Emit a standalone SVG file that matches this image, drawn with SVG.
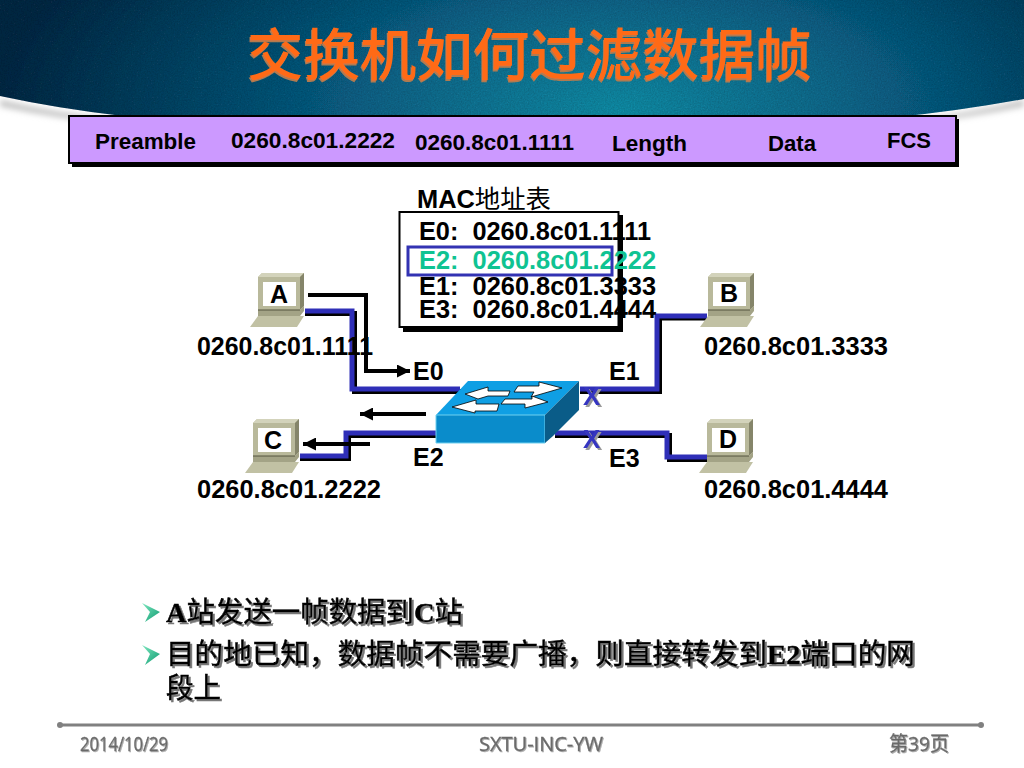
<svg xmlns="http://www.w3.org/2000/svg" xmlns:xlink="http://www.w3.org/1999/xlink" width="1024" height="768" viewBox="0 0 1024 768">
<style>
.l{font-family:"Liberation Sans","Noto Sans CJK SC",sans-serif;font-weight:bold;fill:#000}
.h{font-size:22px}
.m{font-size:25px}
.b{font-family:"Liberation Serif","Noto Sans CJK SC",serif;font-size:28px;font-weight:400;fill:#000;stroke:#000;stroke-width:.5;filter:url(#sb)}
.b tspan{font-weight:bold}
.f{font-family:"Open Sans","Noto Sans CJK SC",sans-serif;font-size:20px;font-weight:400;fill:#6a6a6a;stroke:#6a6a6a;stroke-width:.3;filter:url(#sf)}
.wb{fill:none;stroke:#000;stroke-width:5}
.wf{fill:none;stroke:#2f2fb8;stroke-width:5}
.ar{fill:none;stroke:#000;stroke-width:4}
.x{font-family:"Liberation Sans",sans-serif;font-size:26px;font-weight:bold;fill:#3535c0;filter:url(#sx)}
</style>
<defs>
<radialGradient id="bg" gradientUnits="userSpaceOnUse" cx="620" cy="110" r="620" gradientTransform="translate(0 60) scale(1 .45)">
<stop offset="0" stop-color="#178ca6"/><stop offset=".45" stop-color="#125f84"/><stop offset="1" stop-color="#082a45"/></radialGradient>
<linearGradient id="bu" x1="0" y1="0" x2="1" y2="1"><stop offset="0" stop-color="#7fe8c0"/><stop offset="1" stop-color="#0d9a70"/></linearGradient>
<filter id="tex" x="0" y="0" width="1" height="1"><feTurbulence type="fractalNoise" baseFrequency=".7" numOctaves="2" seed="4"/><feColorMatrix values="0 0 0 0 0 0 0 0 0 0 0 0 0 0 0 .5 0 0 0 -.12"/><feComposite in2="SourceGraphic" operator="in"/><feMerge><feMergeNode in="SourceGraphic"/><feMergeNode/></feMerge></filter>
<filter id="st" x="-5%" y="-10%" width="110%" height="120%"><feDropShadow dx="-1" dy="2" stdDeviation=".3" flood-color="#b27a50"/></filter>
<filter id="sb" x="-5%" y="-10%" width="110%" height="130%"><feDropShadow dx="2" dy="2" stdDeviation=".7" flood-color="#777"/></filter>
<filter id="sf" x="-5%" y="-10%" width="110%" height="130%"><feDropShadow dx="1" dy="1" stdDeviation=".5" flood-color="#aaa"/></filter>
<filter id="sx" x="-30%" y="-30%" width="160%" height="160%"><feDropShadow dx="2" dy="2" stdDeviation=".2" flood-color="#999"/></filter>
<filter id="blur" x="-5%" y="-20%" width="110%" height="140%"><feGaussianBlur stdDeviation="3"/></filter>
<marker id="ah" markerUnits="userSpaceOnUse" markerWidth="14" markerHeight="13" refX="13" refY="6.500" orient="auto"><path d="M0 0L13 6.500L0 13Z" fill="#000"/></marker>
<g id="pc">
<path d="M0 4L4 0H46V33L42 37H0Z" fill="#b9b99b"/>
<path d="M0 4L4 0H46L42 4Z" fill="#d3d3bb"/>
<path d="M42 4L46 0V33L42 37Z" fill="#85856a"/>
<rect x="5" y="9" width="33" height="24" fill="#fff"/>
<path d="M0 37H42L46 33V38L42 43H0Z" fill="#a3a386"/>
<path d="M0 37H42" stroke="#55553f" stroke-width="1"/>
<path d="M-8 54L0 43H46L39 54Z" fill="#c1c1a4"/>
</g>
</defs>
<rect width="1024" height="768" fill="#fff"/>
<g id="banner">
<path d="M0 100Q110 126 260 128H780Q920 126 1024 100V106Q920 128 780 132H260Q110 130 0 106Z" fill="#bbb" filter="url(#blur)"/>
<path d="M0 0H1024V99Q900 122 760 126H270Q120 122 0 96Z" fill="url(#bg)" filter="url(#tex)"/>
<text x="247" y="75" font-family="'Noto Sans CJK SC',sans-serif" font-size="56" font-weight="500" fill="#ff6a14" textLength="565" lengthAdjust="spacingAndGlyphs" filter="url(#st)">交换机如何过滤数据帧</text>
</g>
<g id="frame">
<rect x="72" y="119" width="887" height="48" fill="#000"/>
<rect x="69" y="116" width="887" height="47" fill="#cc99ff" stroke="#000" stroke-width="2"/>
<text class="l h" x="95" y="149" textLength="101" lengthAdjust="spacingAndGlyphs">Preamble</text>
<text class="l h" x="231" y="148" textLength="164" lengthAdjust="spacingAndGlyphs">0260.8c01.2222</text>
<text class="l h" x="415" y="150" textLength="159" lengthAdjust="spacingAndGlyphs">0260.8c01.1111</text>
<text class="l h" x="612" y="151" textLength="75" lengthAdjust="spacingAndGlyphs">Length</text>
<text class="l h" x="768" y="151" textLength="48" lengthAdjust="spacingAndGlyphs">Data</text>
<text class="l h" x="887" y="148" textLength="44" lengthAdjust="spacingAndGlyphs">FCS</text>
</g>
<g id="connectors">
<path class="wb" d="M305 313.500H354.500V391.500H462"/>
<path class="wf" d="M305 311H352V389H460"/>
<path class="wb" d="M707 318H659.500V391.500H580"/>
<path class="wf" d="M707 316H657V389H580"/>
<path class="wb" d="M436 435.500H348.500V458.500H300"/>
<path class="wf" d="M436 433H346V456H300"/>
<path class="wb" d="M555 435.500H669.500V459.500H707"/>
<path class="wf" d="M555 433H667V457H707"/>
<path class="ar" d="M308 295H366V371H410" marker-end="url(#ah)"/>
<path class="ar" d="M426 414H360" marker-end="url(#ah)"/>
<path class="ar" d="M370 444H303" marker-end="url(#ah)"/>
</g>
<g id="mac-table">
<text class="l m" x="417" y="208" textLength="134" lengthAdjust="spacingAndGlyphs">MAC<tspan font-weight="400">地址表</tspan></text>
<rect x="403" y="215" width="220" height="117" fill="#000"/>
<rect x="399.500" y="212" width="219" height="115" fill="#fff" stroke="#000" stroke-width="2"/>
<text class="l m" x="419" y="240" textLength="232" lengthAdjust="spacingAndGlyphs" xml:space="preserve">E0:  0260.8c01.1111</text>
<text class="l m" x="419" y="269" textLength="237" lengthAdjust="spacingAndGlyphs" xml:space="preserve" style="fill:#0fc392">E2:  0260.8c01.2222</text>
<text class="l m" x="419" y="295" textLength="237" lengthAdjust="spacingAndGlyphs" xml:space="preserve">E1:  0260.8c01.3333</text>
<text class="l m" x="419" y="318" textLength="237" lengthAdjust="spacingAndGlyphs" xml:space="preserve">E3:  0260.8c01.4444</text>
<rect x="408" y="247" width="204" height="28" fill="none" stroke="#3333b3" stroke-width="3"/>
</g>
<g id="switch">
<path d="M436 415L468 381H579L545 415Z" fill="#0f9fe4"/>
<path d="M436 415H545V443H436Z" fill="#0a8ccb" stroke="#6fd0f0" stroke-width="1"/>
<path d="M545 415L579 381V410L553 436L545 443Z" fill="#0a5c88"/>
<g fill="#fff" stroke="#000" stroke-width=".8">
<path d="M465 394L488 387V391H510L508 396H488L478 399Z"/>
<path d="M562 388L539 382V386H518L514 392H534L531 397Z"/>
<path d="M452 407L476 400V404H499L497 411H475V413Z"/>
<path d="M548 402L532 396V399H505L501 404H525L525 408Z"/>
</g>
</g>
<g id="marks">
<text class="x" x="583" y="405">X</text>
<text class="x" x="583" y="448">X</text>
</g>
<g id="host-a"><use xlink:href="#pc" href="#pc" x="258" y="273"/><text class="l m" x="279" y="303" text-anchor="middle">A</text><text class="l m" x="197" y="355" textLength="176" lengthAdjust="spacingAndGlyphs">0260.8c01.1111</text></g>
<g id="host-b"><use xlink:href="#pc" href="#pc" x="708" y="273"/><text class="l m" x="729" y="302" text-anchor="middle">B</text><text class="l m" x="704" y="355" textLength="184" lengthAdjust="spacingAndGlyphs">0260.8c01.3333</text></g>
<g id="host-c"><use xlink:href="#pc" href="#pc" x="253" y="419"/><text class="l m" x="273" y="449" text-anchor="middle">C</text><text class="l m" x="197" y="498" textLength="184" lengthAdjust="spacingAndGlyphs">0260.8c01.2222</text></g>
<g id="host-d"><use xlink:href="#pc" href="#pc" x="707" y="419"/><text class="l m" x="728" y="448" text-anchor="middle">D</text><text class="l m" x="704" y="498" textLength="184" lengthAdjust="spacingAndGlyphs">0260.8c01.4444</text></g>
<g id="ports">
<text class="l m" x="413" y="380">E0</text>
<text class="l m" x="609" y="380">E1</text>
<text class="l m" x="413" y="466">E2</text>
<text class="l m" x="609" y="467">E3</text>
</g>
<g id="notes">
<path d="M142 603L160 612L145 622L150 612Z" fill="url(#bu)"/>
<path d="M142 645L160 654L145 665L150 654Z" fill="url(#bu)"/>
<text class="b" x="166" y="622" textLength="297" lengthAdjust="spacingAndGlyphs"><tspan>A</tspan>站发送一帧数据到<tspan>C</tspan>站</text>
<text class="b" x="166" y="664" textLength="749" lengthAdjust="spacingAndGlyphs">目的地已知，数据帧不需要广播，则直接转发到<tspan>E2</tspan>端口的网</text>
<text class="b" x="166" y="698" textLength="55" lengthAdjust="spacingAndGlyphs">段上</text>
</g>
<g id="footer">
<path d="M60 725H982" stroke="#808080" stroke-width="3"/>
<circle cx="60" cy="725" r="3" fill="#808080"/><circle cx="981" cy="725" r="3" fill="#808080"/>
<text class="f" x="80" y="751" textLength="88" lengthAdjust="spacingAndGlyphs">2014/10/29</text>
<text class="f" x="479" y="751" textLength="124" lengthAdjust="spacingAndGlyphs">SXTU-INC-YW</text>
<text class="f" x="889" y="751" textLength="60" lengthAdjust="spacingAndGlyphs">第39页</text>
</g>
</svg>
